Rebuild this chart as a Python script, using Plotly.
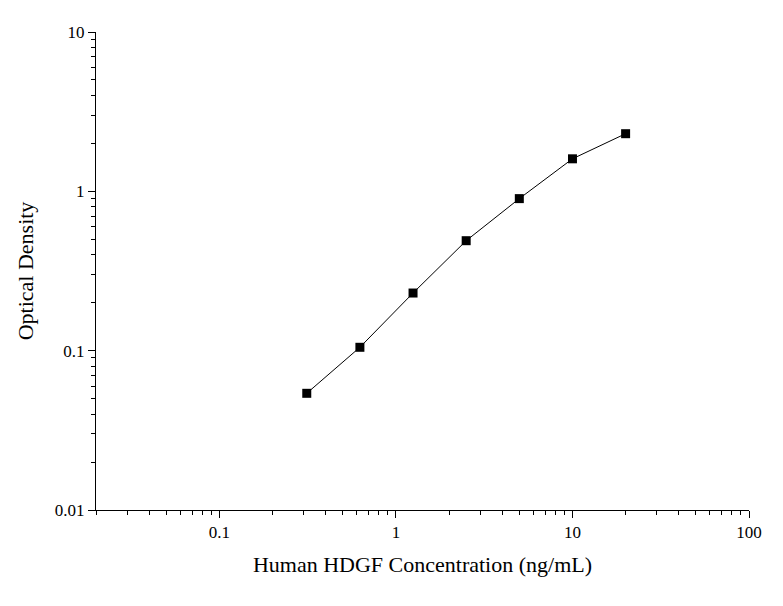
import plotly.graph_objects as go

conc = [0.3125, 0.625, 1.25, 2.5, 5, 10, 20]
od = [0.054, 0.105, 0.23, 0.49, 0.9, 1.6, 2.3]

x_minor = [m * 10 ** e for e in range(-2, 2) for m in range(2, 10) if m * 10 ** e >= 0.02]
y_minor = [m * 10 ** e for e in range(-2, 1) for m in range(2, 10)]

fig = go.Figure()
fig.add_trace(go.Scatter(x=conc, y=od, mode="lines+markers",
                         line=dict(color="black", width=1),
                         marker=dict(symbol="square", size=9, color="black")))

fig.update_layout(
    width=783, height=606, showlegend=False,
    plot_bgcolor="white", paper_bgcolor="white",
    margin=dict(l=88, r=42, t=24, b=104),
    font=dict(family="Liberation Serif", size=17, color="black"),
)
fig.update_xaxes(type="log", range=[-1.699, 2], showgrid=False, zeroline=False,
                 showline=True, linecolor="black", linewidth=1,
                 ticks="outside", ticklen=7, tickcolor="black",
                 tickvals=[0.1, 1, 10, 100], ticktext=["0.1", "1", "10", "100"],
                 minor=dict(ticks="outside", ticklen=4, tickcolor="black",
                            tickvals=x_minor, showgrid=False),
                 title=dict(text="Human HDGF Concentration (ng/mL)", font=dict(size=22)))
fig.update_yaxes(type="log", range=[-2, 1], showgrid=False, zeroline=False,
                 showline=True, linecolor="black", linewidth=1,
                 ticks="outside", ticklen=7, tickcolor="black",
                 tickvals=[0.01, 0.1, 1, 10], ticktext=["0.01", "0.1", "1", "10"],
                 minor=dict(ticks="outside", ticklen=4, tickcolor="black",
                            tickvals=y_minor, showgrid=False),
                 title=dict(text="Optical Density", font=dict(size=22)))

fig.write_html("out.html")
